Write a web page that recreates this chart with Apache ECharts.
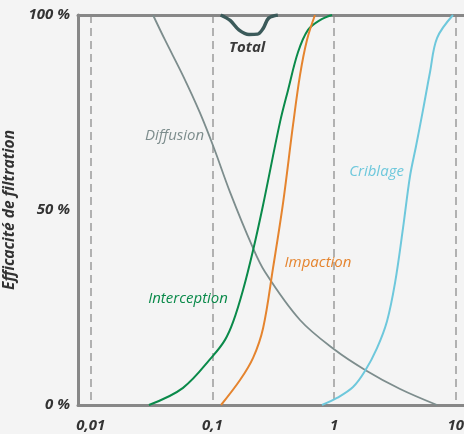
<!DOCTYPE html>
<html>
<head>
<meta charset="utf-8">
<script src="https://cdn.jsdelivr.net/npm/echarts@6/dist/echarts.min.js"></script>
<style>
  html, body { margin: 0; padding: 0; background: #f4f4f4; }
  #chart { width: 464px; height: 434px; }
</style>
</head>
<body>
<div id="chart"></div>
<script>
// Particle size (µm, log scale) vs filtration efficiency (%)
const xTicks = [0.01, 0.1, 1, 10];
const yTicks = [0, 50, 100];

const diffusion = [[0.0325,100],[0.0408,93.6],[0.0574,84.4],[0.0791,74.9],[0.103,65.9],[0.1396,54.6],[0.212,40.8],[0.271,34.1],[0.525,21.8],[1.02,14.1],[1.80,9.0],[3.49,4.1],[7.02,0]];
const interception = [[0.0301,0],[0.0574,4.4],[0.101,12.6],[0.127,16.7],[0.148,21.3],[0.1786,29.5],[0.216,39.7],[0.261,51.3],[0.360,72.6],[0.419,80.8],[0.506,90.5],[0.611,96.2],[0.767,98.7],[0.962,100]];
const impaction = [[0.1178,0],[0.1687,6.4],[0.216,12.1],[0.261,19.7],[0.315,35.1],[0.381,51.8],[0.460,71.8],[0.525,84.6],[0.599,93.6],[0.697,100]];
const criblage = [[0.796,0],[1.057,1.8],[1.432,4.6],[1.795,8.7],[2.254,14.6],[2.723,21.5],[3.17,31.3],[3.69,45.4],[4.21,58.7],[4.72,66.4],[5.38,75.6],[6.15,85.4],[7.02,94.1],[9.50,100]];
const total = [[0.117,100],[0.14,98.6],[0.165,96.2],[0.2,95.0],[0.235,95.1],[0.262,96.6],[0.29,99.2],[0.345,100]];

const seriesNames = ['Diffusion', 'Interception', 'Impaction', 'Criblage', 'Total'];
const labelPos = [[0.0489,69.0],[0.0631,27.2],[0.738,36.4],[2.234,59.7],[0.193,91.5]];

const colors = ['#7d8d8d', '#0a8a4a', '#e5842e', '#6ec8dc', '#3b5a5a'];
const widths = [1.8, 2, 2, 2, 3.5];
const datasets = [diffusion, interception, impaction, criblage, total];

const FONT = '"Open Sans"';
const AXIS_COLOR = '#878787';

const chart = echarts.init(document.getElementById('chart'));

function fmtX(v) {
  const l = Math.log10(v);
  if (Math.abs(l - Math.round(l)) > 1e-6) return '';
  const p = Math.round(l);
  const match = xTicks.find(t => Math.abs(Math.log10(t) - p) < 1e-6);
  if (match === undefined) return '';
  return String(match).replace('.', ',');
}

const series = datasets.map((d, i) => ({
  name: seriesNames[i],
  type: 'line',
  data: d,
  smooth: 0.35,
  showSymbol: false,
  lineStyle: { color: colors[i], width: widths[i] },
  z: i === 4 ? 5 : 3,
  markPoint: {
    symbol: 'circle',
    symbolSize: 0,
    silent: true,
    data: [{ coord: labelPos[i], value: seriesNames[i] }],
    label: {
      show: true,
      position: 'inside',
      formatter: seriesNames[i],
      color: i === 4 ? '#3a3a3a' : colors[i],
      fontFamily: FONT,
      fontStyle: 'italic',
      fontWeight: i === 4 ? 'bold' : 'normal',
      fontSize: 15
    }
  }
}));

const xMin = 0.007862, xMax = 14.13;

chart.setOption({
  backgroundColor: '#f4f4f4',
  animation: false,
  grid: {
    left: 78, top: 15, bottom: 29, right: -10,
    outerBoundsMode: 'none',
    containLabel: false
  },
  xAxis: [{
    type: 'log',
    logBase: 10,
    min: xMin,
    max: xMax,
    position: 'bottom',
    axisLine: { show: true, lineStyle: { color: AXIS_COLOR, width: 3 } },
    axisTick: { show: false },
    splitLine: { show: true, lineStyle: { color: '#9a9a9a', width: 1.5, type: [8, 5] } },
    axisLabel: {
      formatter: fmtX,
      margin: 13,
      color: '#333',
      fontFamily: FONT,
      fontStyle: 'italic',
      fontWeight: 'bold',
      fontSize: 15
    }
  }, {
    type: 'log',
    logBase: 10,
    min: xMin,
    max: xMax,
    position: 'top',
    axisLine: { show: true, lineStyle: { color: AXIS_COLOR, width: 3 } },
    axisTick: { show: false },
    splitLine: { show: false },
    axisLabel: { show: false }
  }],
  yAxis: {
    type: 'value',
    min: yTicks[0],
    max: yTicks[yTicks.length - 1],
    interval: 50,
    name: 'Efficacité de filtration',
    nameLocation: 'middle',
    nameGap: 49,
    nameTextStyle: { color: '#333', fontFamily: FONT, fontStyle: 'italic', fontWeight: 'bold', fontSize: 15.5 },
    axisLine: { show: true, lineStyle: { color: AXIS_COLOR, width: 3 } },
    axisTick: { show: false },
    splitLine: { show: false },
    axisLabel: {
      formatter: v => v + ' %',
      margin: 8,
      color: '#333',
      fontFamily: FONT,
      fontStyle: 'italic',
      fontWeight: 'bold',
      fontSize: 15
    }
  },
  series: series
});
</script>
</body>
</html>
